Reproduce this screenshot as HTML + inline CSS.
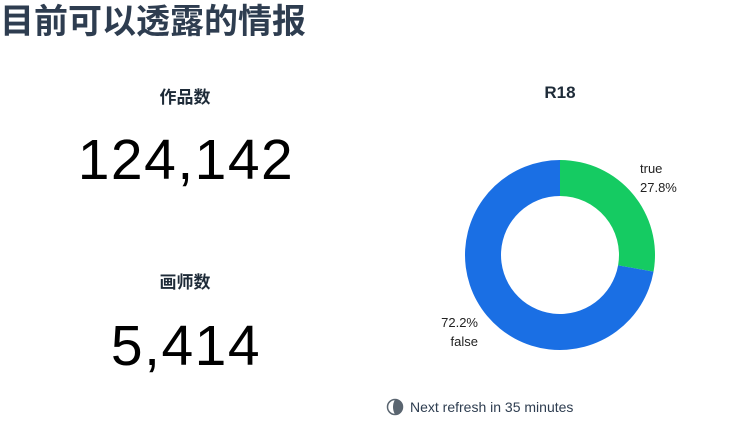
<!DOCTYPE html>
<html><head><meta charset="utf-8"><style>
body{margin:0;width:734px;height:430px;background:#fff;font-family:"Liberation Sans","Noto Sans CJK SC",sans-serif;position:relative;overflow:hidden}
.a{position:absolute}
h1{position:absolute;left:0;top:-6px;margin:0;font-size:34px;font-weight:bold;color:#2e3d50;font-family:"Noto Sans CJK SC",sans-serif;white-space:nowrap}
.lbl{font-size:17px;font-weight:bold;color:#1e2b38;text-align:center;width:200px;font-family:"Liberation Sans","Noto Sans CJK SC",sans-serif}
.num{font-size:57px;color:#000;text-align:center;width:300px;letter-spacing:1.5px}
</style></head><body>
<h1>目前可以透露的情报</h1>
<div class="a lbl" style="left:85px;top:83px">作品数</div>
<div class="a num" style="left:36px;top:127px">124,142</div>
<div class="a lbl" style="left:85px;top:268px">画师数</div>
<div class="a num" style="left:36px;top:313px">5,414</div>
<div class="a lbl" style="left:460px;top:83px">R18</div>
<svg class="a" style="left:0;top:0" width="734" height="430" id="chart"></svg>
<div class="a" style="left:386px;top:398px;font-size:14px;color:#2e3d50;display:flex;align-items:center">
<svg width="18" height="18" style="margin-right:6px"><circle cx="9" cy="9" r="7.5" fill="#fff" stroke="#5a6570" stroke-width="1.5"/><path d="M9 1.5 A7.5 7.5 0 0 1 9 16.5 Q5 9 9 1.5Z" fill="#5a6570"/></svg>Next refresh in 35 minutes</div>
<script>
const categories=["true","false"];
const values=[27.8,72.2];
const colors=["#15cb62","#1a6fe4"];
const svg=document.getElementById('chart');
const cx=560,cy=255,R=95,r=59;
const total=values.reduce((a,b)=>a+b,0);
const ang=v=>v/total*2*Math.PI;
let start=0;
const ns="http://www.w3.org/2000/svg";
function pt(rad,a){return [cx+rad*Math.sin(a),cy-rad*Math.cos(a)];}
values.forEach((v,i)=>{
  const a0=start,a1=start+ang(v);start=a1;
  const large=(a1-a0)>Math.PI?1:0;
  const [x0,y0]=pt(R,a0),[x1,y1]=pt(R,a1),[x2,y2]=pt(r,a1),[x3,y3]=pt(r,a0);
  const p=document.createElementNS(ns,'path');
  p.setAttribute('d',`M${x0} ${y0}A${R} ${R} 0 ${large} 1 ${x1} ${y1}L${x2} ${y2}A${r} ${r} 0 ${large} 0 ${x3} ${y3}Z`);
  p.setAttribute('fill',colors[i]);
  
  
  svg.appendChild(p);
  const mid=(a0+a1)/2;
  const right=Math.sin(mid)>0;
  const t=document.createElementNS(ns,'text');
  t.setAttribute('font-size','13');t.setAttribute('fill','#222');
  t.setAttribute('font-family','Liberation Sans, sans-serif');
  t.setAttribute('text-anchor',right?'start':'end');
  const pct=v.toFixed(1)+'%';
  const lines=right?[categories[i],pct]:[pct,categories[i]];
  const bx=right?cx+80:cx-82, by=right?cy-82:cy+72;
  lines.forEach((s,k)=>{const ts=document.createElementNS(ns,'tspan');ts.setAttribute('x',bx);ts.setAttribute('y',by+k*19);ts.textContent=s;t.appendChild(ts);});
  
  
  svg.appendChild(t);
});
</script>
</body></html>
